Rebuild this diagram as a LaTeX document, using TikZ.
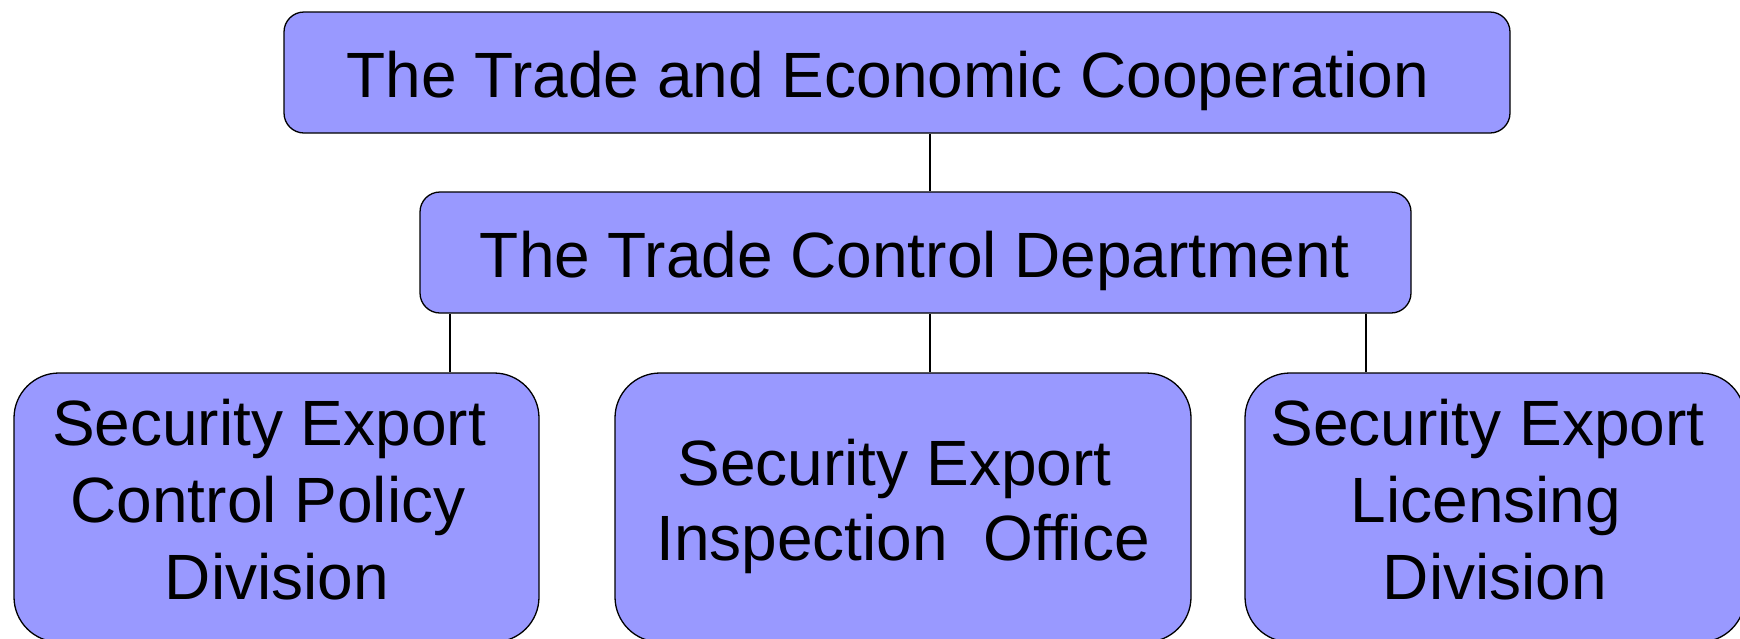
\documentclass[tikz,border=0pt]{standalone}
\usepackage{fontspec}
\setmainfont{Liberation Sans}
\definecolor{boxfill}{HTML}{9999FF}
\begin{document}
\begin{tikzpicture}[x=1pt,y=-1pt,
  box/.style={draw=black, line width=1.3pt, fill=boxfill, rounded corners=20pt, inner sep=0pt},
  bigbox/.style={box, rounded corners=45pt},
  lbl/.style={inner sep=0pt, anchor=base, font=\fontsize{64}{77}\selectfont},
  link/.style={draw=black, line width=1.3pt}]
\useasboundingbox (0,0) rectangle (1740,638);
% boxes
\node[box, minimum width=1226pt, minimum height=121pt] (top) at (897,72.5) {};
\node[box, minimum width=991pt, minimum height=121pt] (dept) at (915.5,252.5) {};
\node[bigbox, minimum width=525pt, minimum height=269pt] (pol) at (276.5,507.5) {};
\node[bigbox, minimum width=576pt, minimum height=269pt] (insp) at (903,507.5) {};
\node[bigbox, minimum width=500pt, minimum height=269pt] (lic) at (1495,507.5) {};
% texts
\node[lbl] (t0) at (888,97) {The Trade and Economic Cooperation};
\node[lbl] (t1) at (914.5,277) {The Trade Control Department};
\node[lbl] (p1) at (269,445) {Security Export};
\node[lbl] (p2) at (268,522) {Control Policy};
\node[lbl] (p3) at (277,599) {Division};
\node[lbl] (i1) at (894.5,485) {Security Export};
\node[lbl] (i2) at (903,560) {Inspection\ \ Office};
\node[lbl] (l1) at (1487.5,445) {Security Export};
\node[lbl] (l2) at (1486,522) {Licensing};
\node[lbl] (l3) at (1495,599) {Division};
% connectors
\coordinate (ja) at (930,0);
\coordinate (jb) at (450,0);
\coordinate (jc) at (1366,0);
\draw[link] (ja |- top.south) -- (ja |- dept.north);
\draw[link] (jb |- dept.south) -- (jb |- pol.north);
\draw[link] (ja |- dept.south) -- (ja |- insp.north);
\draw[link] (jc |- dept.south) -- (jc |- lic.north);
\end{tikzpicture}
\end{document}
